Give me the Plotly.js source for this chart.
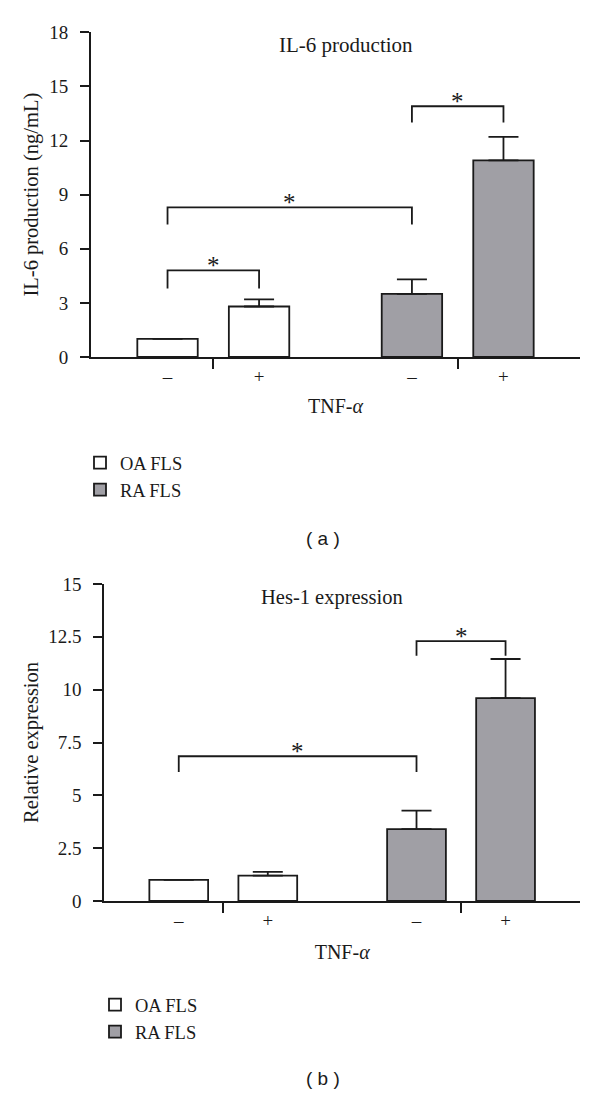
<!DOCTYPE html>
<html>
<head>
<meta charset="utf-8">
<script src="https://cdn.plot.ly/plotly-3.0.1.min.js"></script>
<style>html,body{margin:0;padding:0;background:#fff;}#chart{width:600px;height:1094px;}</style>
</head>
<body>
<div id="chart"></div>
<script>
// ---- data ----
const groups = ['OA FLS', 'RA FLS'];
const tnfLabels = ['–', '+'];
// Panel (a): IL-6 production (ng/mL)
const il6OA = [1.0, 2.8];
const il6OAerr = [0, 0.4];
const il6RA = [3.5, 10.9];
const il6RAerr = [0.8, 1.3];
// Panel (b): Hes-1 relative expression
const hesOA = [1.0, 1.2];
const hesOAerr = [0, 0.18];
const hesRA = [3.4, 9.6];
const hesRAerr = [0.88, 1.85];
// significance brackets: [fromBarIndex, toBarIndex, bracketTop, legBottom]
const sigA = [[0, 1, 4.8, 3.8], [0, 2, 8.3, 7.35], [2, 3, 13.9, 13.0]];
const sigB = [[0, 2, 6.85, 6.1], [2, 3, 12.3, 11.6]];

// ---- layout helpers ----
const H = 1094, W = 600;
const groupGap = 0.67;           // extra space between the OA and RA groups
function slot(g, i) { return 1 + g * (tnfLabels.length + groupGap) + i; }
const oaX = tnfLabels.map((_, i) => slot(0, i));
const raX = tnfLabels.map((_, i) => slot(1, i));
const allX = oaX.concat(raX);
const allLabels = tnfLabels.concat(tnfLabels);
const dividers = [ (oaX[0] + oaX[1]) / 2, (raX[0] + raX[1]) / 2 ];
const py = px => 1 - px / H;
const serif = 'Liberation Serif, Times New Roman, serif';
const black = '#1a1a1a';
const grey = '#a09fa5';

function barTrace(name, x, y, err, fill, xa, ya, legend, show) {
  return {
    type: 'bar', name: name, x: x, y: y, width: 0.66,
    xaxis: xa, yaxis: ya, legend: legend, showlegend: show,
    marker: {color: fill, line: {color: black, width: 1.8}},
    error_y: {type: 'data', symmetric: false, array: err, arrayminus: err.map(() => 0),
              color: black, thickness: 1.8, width: 15},
    hoverinfo: 'skip'
  };
}

const data = [
  barTrace(groups[0], oaX, il6OA, il6OAerr, '#ffffff', 'x', 'y', 'legend', true),
  barTrace(groups[1], raX, il6RA, il6RAerr, grey, 'x', 'y', 'legend', true),
  barTrace(groups[0], oaX, hesOA, hesOAerr, '#ffffff', 'x2', 'y2', 'legend2', true),
  barTrace(groups[1], raX, hesRA, hesRAerr, grey, 'x2', 'y2', 'legend2', true)
];

function xAxis(domain, anchor, standoff) {
  return {
    domain: domain, anchor: anchor, range: [0.164, 5.506], type: 'linear',
    showline: true, linecolor: black, linewidth: 2, mirror: false,
    showgrid: false, zeroline: false, automargin: false,
    tickmode: 'array', tickvals: allX, ticktext: allLabels, ticks: '',
    ticklabelstandoff: 1,
    tickfont: {family: serif, size: 19, color: black},
    minor: {tickmode: 'array', tickvals: dividers, ticks: 'outside', ticklen: 10,
            tickwidth: 2, tickcolor: black, showgrid: false},
    title: {text: 'TNF-<i>α</i>', font: {family: serif, size: 20, color: black}, standoff: standoff}
  };
}
function yAxis(domain, anchor, range, dtick, title, standoff) {
  return {
    domain: domain, anchor: anchor, range: range, dtick: dtick, tick0: 0,
    showline: true, linecolor: black, linewidth: 2,
    showgrid: false, zeroline: false, automargin: false,
    ticks: 'outside', ticklen: 9, tickwidth: 2, tickcolor: black,
    ticklabelstandoff: 8,
    tickfont: {family: serif, size: 19, color: black},
    title: {text: title, font: {family: serif, size: 20.5, color: black}, standoff: standoff}
  };
}

function brackets(sig, xa, ya, X) {
  const shapes = [], ann = [];
  sig.forEach(s => {
    const x0 = X[s[0]], x1 = X[s[1]];
    shapes.push({type: 'path', xref: xa, yref: ya,
      path: `M${x0},${s[3]} L${x0},${s[2]} L${x1},${s[2]} L${x1},${s[3]}`,
      line: {color: black, width: 1.8}});
    ann.push({xref: xa, yref: ya, x: (x0 + x1) / 2, y: s[2], text: '*', showarrow: false,
      yanchor: 'bottom', yshift: -11, font: {family: serif, size: 25, color: black}});
  });
  return {shapes, ann};
}
const bA = brackets(sigA, 'x', 'y', allX);
const bB = brackets(sigB, 'x2', 'y2', allX);

const legendStyle = (x, y) => ({
  x: x, y: y, xanchor: 'left', yanchor: 'top', xref: 'paper', yref: 'paper',
  bgcolor: 'rgba(0,0,0,0)', borderwidth: 0, orientation: 'v',
  font: {family: serif, size: 18.5, color: black}, itemclick: false, itemdoubleclick: false
});

const layout = {
  width: W, height: H, margin: {l: 0, r: 0, t: 0, b: 0},
  paper_bgcolor: '#ffffff', plot_bgcolor: '#ffffff',
  barmode: 'overlay', showlegend: true,
  xaxis: xAxis([91 / W, 580 / W], 'y', 13),
  yaxis: yAxis([py(357), py(32.3)], 'x', [0, 18], 3, 'IL-6 production (ng/mL)', 5),
  xaxis2: xAxis([104.3 / W, 580 / W], 'y2', 15),
  yaxis2: yAxis([py(901), py(584)], 'x2', [0, 15], 2.5, 'Relative expression', 4),
  legend: legendStyle(80 / W, py(444)),
  legend2: legendStyle(95 / W, py(986)),
  shapes: bA.shapes.concat(bB.shapes),
  annotations: [
    {xref: 'paper', yref: 'paper', x: 346 / W, y: py(45), yanchor: 'middle', xanchor: 'center',
     text: 'IL-6 production', showarrow: false,
     font: {family: serif, size: 21, color: black}},
    {xref: 'paper', yref: 'paper', x: 331.7 / W, y: py(597), yanchor: 'middle', xanchor: 'center',
     text: 'Hes-1 expression', showarrow: false,
     font: {family: serif, size: 20.5, color: black}},
    {xref: 'paper', yref: 'paper', x: 323 / W, y: py(538), yanchor: 'middle', xanchor: 'center',
     text: '( a )', showarrow: false,
     font: {family: 'Liberation Sans, Arial, sans-serif', size: 19, color: black}},
    {xref: 'paper', yref: 'paper', x: 322.7 / W, y: py(1078), yanchor: 'middle', xanchor: 'center',
     text: '( b )', showarrow: false,
     font: {family: 'Liberation Sans, Arial, sans-serif', size: 19, color: black}}
  ].concat(bA.ann, bB.ann)
};

Plotly.newPlot('chart', data, layout, {staticPlot: true, displayModeBar: false});
</script>
</body>
</html>
